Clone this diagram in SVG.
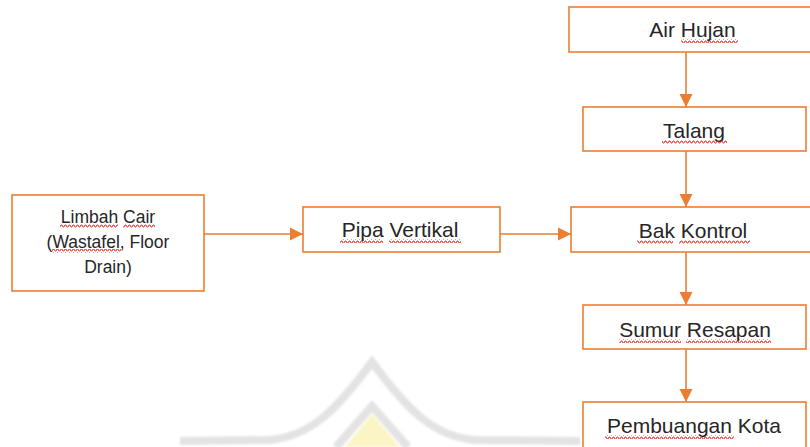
<svg xmlns="http://www.w3.org/2000/svg" width="810" height="447" viewBox="0 0 810 447">
  <defs>
    <style>
      .box { fill: #ffffff; stroke: #ED7D31; stroke-width: 1.6; }
      .lbl { font-family: "Liberation Sans", Arial, sans-serif; font-size: 21px; fill: #262626; text-anchor: middle; }
      .lbl.small { font-size: 17.5px; }
      .edge { fill: none; stroke: #ED7D31; stroke-width: 1.6; }
      .spell { fill: url(#squiggle); }
      .mark { fill: none; stroke: #e3e3e3; stroke-width: 8; stroke-linecap: butt; }
    </style>
    <marker id="arrow" markerUnits="userSpaceOnUse" markerWidth="14" markerHeight="14" viewBox="0 0 14 14" refX="13" refY="7" orient="auto">
      <path d="M0,0.5 L13,7 L0,13.5 Z" fill="#ED7D31"/>
    </marker>
    <!-- red wavy spell-check underline -->
    <pattern id="squiggle" patternUnits="userSpaceOnUse" width="4" height="4">
      <path d="M0,3 L1,1 L2,1 L3,3 L4,3" fill="none" stroke="#e0201c" stroke-width="0.9"/>
    </pattern>
    <filter id="soft" x="-10%" y="-10%" width="120%" height="120%">
      <feGaussianBlur stdDeviation="1.2"/>
    </filter>
  </defs>

  <rect width="810" height="447" fill="#ffffff"/>

  <!-- faint background emblem -->
  <g id="emblem" filter="url(#soft)">
    <path d="M345,447 L372,414 L400,447 Z" fill="#fbf5c6"/>
    <path class="mark" d="M180,441 L270,440 C310,436 335,412 372,362 C409,412 434,436 474,440 L580,441"/>
    <path class="mark" d="M336,447 L372,406 L408,447"/>
  </g>

  <!-- connectors -->
  <g id="connectors">
    <path class="edge" d="M204,234 L303,234" marker-end="url(#arrow)"/>
    <path class="edge" d="M500,234 L571,234" marker-end="url(#arrow)"/>
    <path class="edge" d="M686,52 L686,107" marker-end="url(#arrow)"/>
    <path class="edge" d="M686,151 L686,207" marker-end="url(#arrow)"/>
    <path class="edge" d="M686,252 L686,305" marker-end="url(#arrow)"/>
    <path class="edge" d="M686,349 L686,402" marker-end="url(#arrow)"/>
  </g>

  <g id="limbah-cair">
    <rect class="box" x="12" y="195" width="192" height="96"/>
    <text class="lbl small" x="108" y="223">Limbah Cair</text>
    <text class="lbl small" x="108" y="248">(Wastafel, Floor</text>
    <text class="lbl small" x="108" y="273">Drain)</text>
    <rect class="spell" x="60" y="224" width="58" height="4"/>
    <rect class="spell" x="123" y="224" width="32" height="4"/>
    <rect class="spell" x="52" y="249" width="69" height="4"/>
  </g>

  <g id="pipa-vertikal">
    <rect class="box" x="303" y="207" width="197" height="45"/>
    <text class="lbl" x="400" y="237">Pipa Vertikal</text>
    <rect class="spell" x="340" y="239" width="43" height="4"/>
    <rect class="spell" x="389" y="239" width="72" height="4"/>
  </g>

  <g id="air-hujan">
    <rect class="box" x="569" y="7" width="250" height="45"/>
    <text class="lbl" x="692.5" y="37">Air Hujan</text>
    <rect class="spell" x="681" y="39" width="57" height="4"/>
  </g>

  <g id="talang">
    <rect class="box" x="583" y="107" width="223" height="44"/>
    <text class="lbl" x="694" y="138">Talang</text>
    <rect class="spell" x="662" y="140" width="65" height="4"/>
  </g>

  <g id="bak-kontrol">
    <rect class="box" x="571" y="207" width="250" height="45"/>
    <text class="lbl" x="693" y="238">Bak Kontrol</text>
    <rect class="spell" x="637" y="240" width="36" height="4"/>
    <rect class="spell" x="679" y="240" width="71" height="4"/>
  </g>

  <g id="sumur-resapan">
    <rect class="box" x="583" y="305" width="223" height="44"/>
    <text class="lbl" x="695" y="337">Sumur Resapan</text>
    <rect class="spell" x="619" y="339" width="62" height="4"/>
    <rect class="spell" x="686" y="339" width="85" height="4"/>
  </g>

  <g id="pembuangan-kota">
    <rect class="box" x="583" y="402" width="223" height="60"/>
    <text class="lbl" x="694" y="433">Pembuangan Kota</text>
    <rect class="spell" x="605" y="435" width="129" height="4"/>
  </g>
</svg>
